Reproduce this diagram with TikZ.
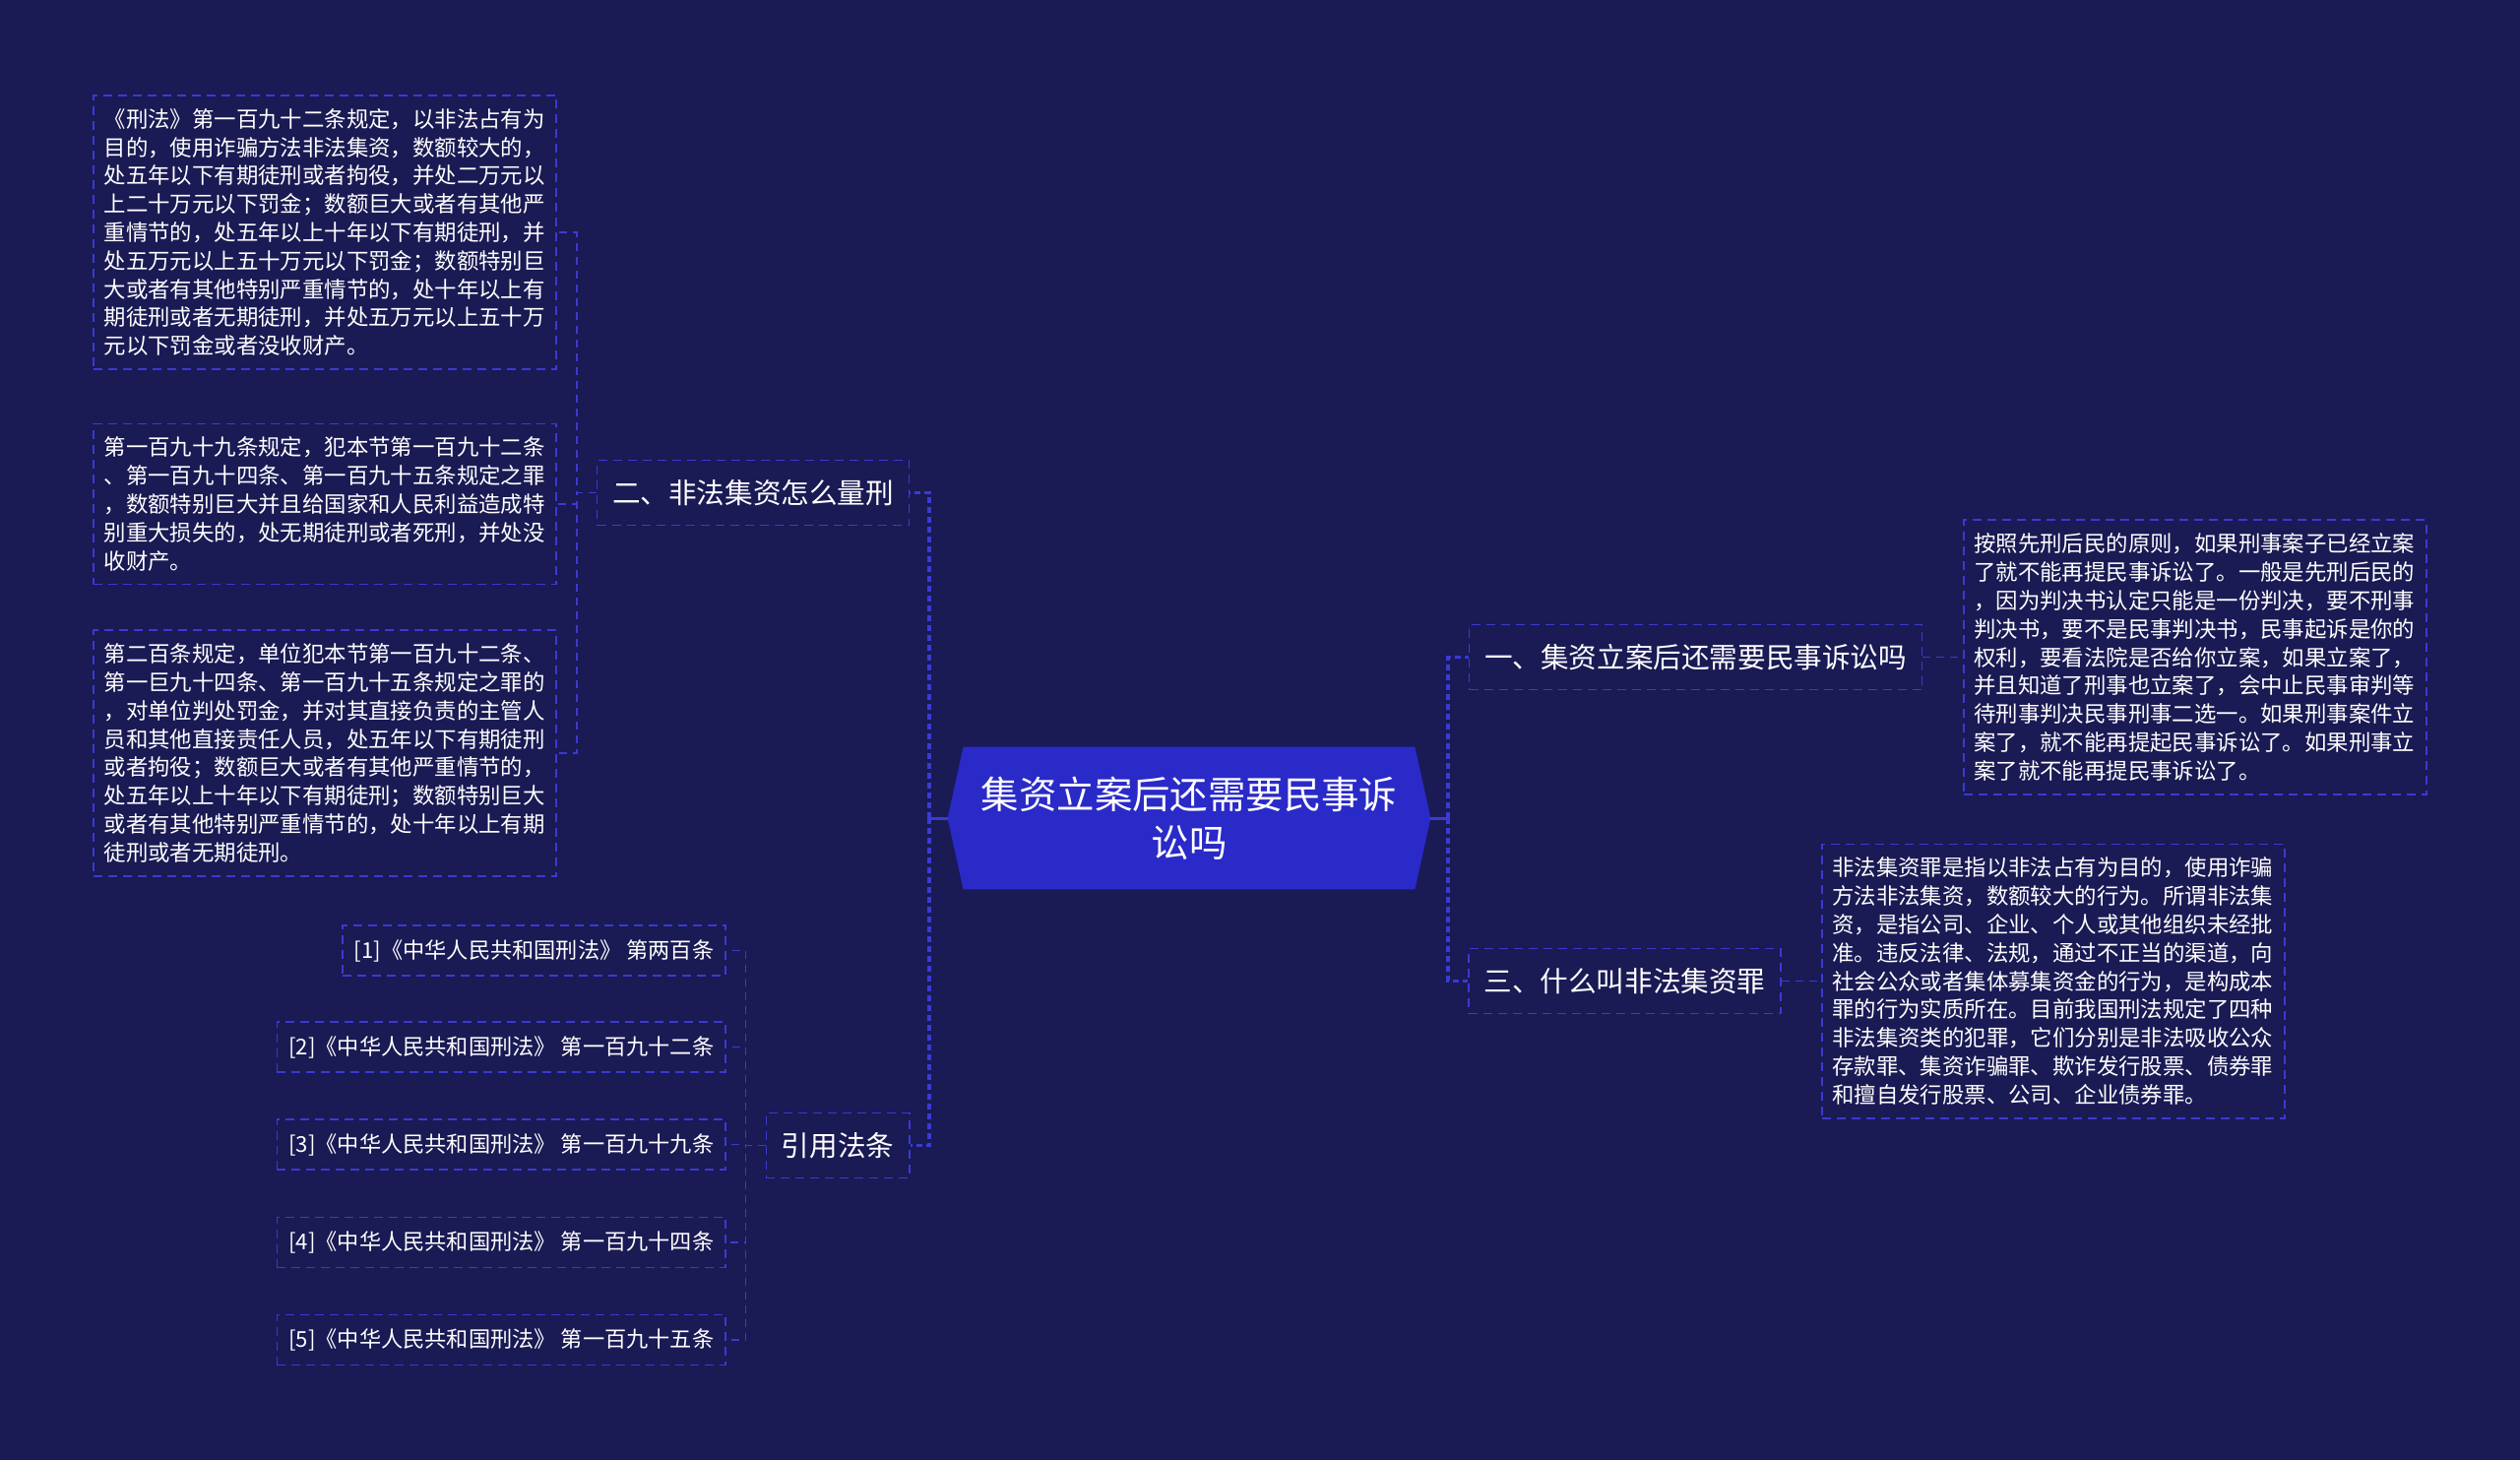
\documentclass[tikz,border=0pt]{standalone}
\usepackage{fontspec}
\setmainfont{Noto Sans CJK SC}
\usepackage{tikz}
\usetikzlibrary{arrows.meta,positioning,calc,backgrounds}
\definecolor{BgColor}{RGB}{26,26,84}
\definecolor{RootColor}{RGB}{42,42,200}
\definecolor{LineColor}{RGB}{58,58,212}

\begin{document}
\begin{tikzpicture}[x=0.5pt, y=-0.5pt,
    textbox/.style={draw=LineColor, dash pattern=on 4.5pt off 3pt, line width=0.8pt, text=white, text width=224.5pt, align=left, inner xsep=5.25pt, inner ysep=6.8pt, font=\fontsize{11.2}{14.4}\selectfont},
    branch/.style={draw=LineColor, dash pattern=on 4.5pt off 3pt, line width=0.8pt, text=white, minimum height=33pt, inner xsep=7.75pt, inner ysep=0pt, font=\fontsize{14.3}{17}\selectfont},
    refbox/.style={draw=LineColor, dash pattern=on 4.5pt off 3pt, line width=0.8pt, text=white, minimum height=25.5pt, inner xsep=6pt, inner ysep=0pt, anchor=east, font=\fontsize{11.1}{14}\selectfont},
    stem/.style={LineColor, line width=1.5pt},
    trunk/.style={LineColor, line width=1.6pt, dash pattern=on 3pt off 2pt},
    link/.style={LineColor, line width=0.9pt, dash pattern=on 4pt off 3pt}]
      \useasboundingbox (0,0) rectangle (2560,1483);
      \node[text=white, align=center, minimum width=245pt, minimum height=72pt, inner sep=0pt, font=\fontsize{19.2}{24.5}\selectfont] (root) at (1208,831) {集资立案后还需要民事诉\\讼吗};
      \begin{pgfonlayer}{background}
        \fill[BgColor] (0,0) rectangle (2560,1483);
        \fill[RootColor] ([xshift=8pt]root.north west) -- ([xshift=-8pt]root.north east) -- (root.east) -- ([xshift=-8pt]root.south east) -- ([xshift=8pt]root.south west) -- (root.west) -- cycle;
      \end{pgfonlayer}
      \coordinate (lt) at (944,831);
      \coordinate (rt) at (1471,831);
      \node[branch] (er) at (765,500.5) {二、非法集资怎么量刑};
      \node[branch] (yy) at (851,1163.5) {引用法条};
      \node[branch] (y1) at (1722.5,667.5) {一、集资立案后还需要民事诉讼吗};
      \node[branch] (s3) at (1650.5,996.5) {三、什么叫非法集资罪};
      \node[textbox, anchor=east] (lb1) at (566,236) {《刑法》第一百九十二条规定，以非法占有为\\目的，使用诈骗方法非法集资，数额较大的，\\处五年以下有期徒刑或者拘役，并处二万元以\\上二十万元以下罚金；数额巨大或者有其他严\\重情节的，处五年以上十年以下有期徒刑，并\\处五万元以上五十万元以下罚金；数额特别巨\\大或者有其他特别严重情节的，处十年以上有\\期徒刑或者无期徒刑，并处五万元以上五十万\\元以下罚金或者没收财产。};
      \node[textbox, anchor=east] (lb2) at (566,512) {第一百九十九条规定，犯本节第一百九十二条\\、第一百九十四条、第一百九十五条规定之罪\\，数额特别巨大并且给国家和人民利益造成特\\别重大损失的，处无期徒刑或者死刑，并处没\\收财产。};
      \node[textbox, anchor=east] (lb3) at (566,765) {第二百条规定，单位犯本节第一百九十二条、\\第一巨九十四条、第一百九十五条规定之罪的\\，对单位判处罚金，并对其直接负责的主管人\\员和其他直接责任人员，处五年以下有期徒刑\\或者拘役；数额巨大或者有其他严重情节的，\\处五年以上十年以下有期徒刑；数额特别巨大\\或者有其他特别严重情节的，处十年以上有期\\徒刑或者无期徒刑。};
      \node[refbox] (r1) at (738,965.5) {[1]《中华人民共和国刑法》 第两百条};
      \node[refbox] (r2) at (738,1063.5) {[2]《中华人民共和国刑法》 第一百九十二条};
      \node[refbox] (r3) at (738,1162.5) {[3]《中华人民共和国刑法》 第一百九十九条};
      \node[refbox] (r4) at (738,1262) {[4]《中华人民共和国刑法》 第一百九十四条};
      \node[refbox] (r5) at (738,1361) {[5]《中华人民共和国刑法》 第一百九十五条};
      \node[textbox, anchor=west] (rb1) at (1994,667.5) {按照先刑后民的原则，如果刑事案子已经立案\\了就不能再提民事诉讼了。一般是先刑后民的\\，因为判决书认定只能是一份判决，要不刑事\\判决书，要不是民事判决书，民事起诉是你的\\权利，要看法院是否给你立案，如果立案了，\\并且知道了刑事也立案了，会中止民事审判等\\待刑事判决民事刑事二选一。如果刑事案件立\\案了，就不能再提起民事诉讼了。如果刑事立\\案了就不能再提民事诉讼了。};
      \node[textbox, anchor=west] (rb2) at (1850,996.5) {非法集资罪是指以非法占有为目的，使用诈骗\\方法非法集资，数额较大的行为。所谓非法集\\资，是指公司、企业、个人或其他组织未经批\\准。违反法律、法规，通过不正当的渠道，向\\社会公众或者集体募集资金的行为，是构成本\\罪的行为实质所在。目前我国刑法规定了四种\\非法集资类的犯罪，它们分别是非法吸收公众\\存款罪、集资诈骗罪、欺诈发行股票、债券罪\\和擅自发行股票、公司、企业债券罪。};
      \draw[stem] (root.west) -- (lt);
      \draw[stem] (root.east) -- (rt);
      \draw[trunk] (lt) |- (er.east);
      \draw[trunk] (lt) |- (yy.east);
      \draw[trunk] (rt) |- (y1.west);
      \draw[trunk] (rt) |- (s3.west);
      \draw[link] (er.west) -- ++(-20,0) |- (lb1.east);
      \draw[link] (er.west) -- ++(-20,0) |- (lb2.east);
      \draw[link] (er.west) -- ++(-20,0) |- (lb3.east);
      \draw[link] (yy.west) -- ++(-20,0) |- (r1.east);
      \draw[link] (yy.west) -- ++(-20,0) |- (r2.east);
      \draw[link] (yy.west) -- ++(-20,0) |- (r3.east);
      \draw[link] (yy.west) -- ++(-20,0) |- (r4.east);
      \draw[link] (yy.west) -- ++(-20,0) |- (r5.east);
      \draw[link] (y1.east) -- (rb1.west);
      \draw[link] (s3.east) -- (rb2.west);
    \end{tikzpicture}
\end{document}
